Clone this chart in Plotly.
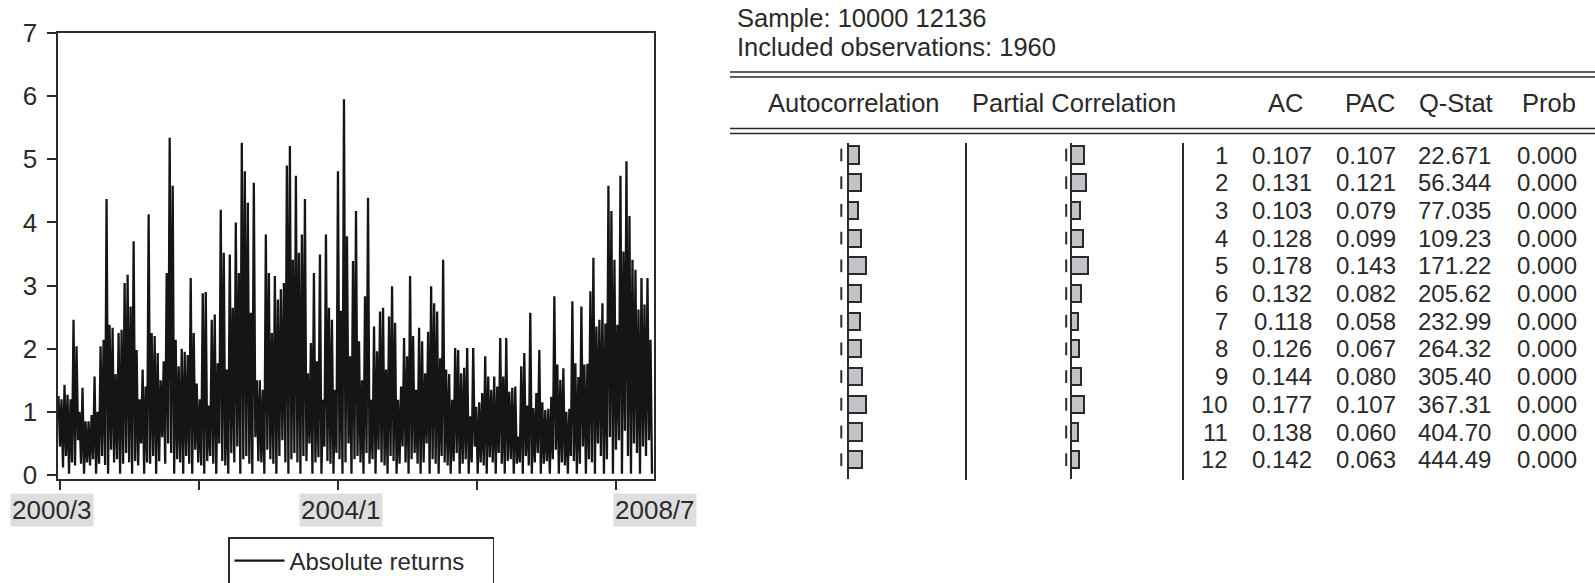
import numpy as np
import plotly.graph_objects as go

W, H = 1595, 583


def px(x):
    return x / W


def py(y):
    return 1 - y / H


FONT = "Liberation Sans, Arial, Helvetica, sans-serif"
INK = "#2a2a2a"

# ---------------- data: absolute returns (peak / trough per ~5 obs) -------------
peaks_a = [1.25, 1.2, 1.43, 1.27, 1.2, 2.46, 2.04, 1.0, 1.38, 0.85,
           0.85, 0.95, 1.56, 1.0, 2.04, 2.14, 4.37, 2.38, 2.33, 1.6,
           2.25, 2.3, 3.04, 3.17, 2.67, 3.70, 1.98, 1.2, 1.67, 1.4,
           4.13, 2.25, 2.2, 1.93, 1.5, 1.8, 3.2, 5.34, 4.58, 2.14,
           1.72, 2.0, 1.95, 1.9, 3.12, 2.25, 1.45, 1.2, 2.88, 2.9]
troughs_a = [0.45, 0.12, 0.3, 0.02, 0.2, 0.15, 0.55, 0.18, 0.02, 0.2,
             0.15, 0.25, 0.02, 0.18, 0.3, 0.16, 0.02, 0.4, 0.2, 0.25,
             0.02, 0.18, 0.35, 0.2, 0.02, 0.22, 0.15, 0.5, 0.02, 0.2,
             0.18, 0.3, 0.02, 0.22, 0.6, 0.18, 0.5, 0.35, 0.02, 0.25,
             0.2, 0.02, 0.3, 0.18, 0.02, 0.4, 0.2, 0.15, 0.02, 0.22]
peaks_b = [1.1, 2.46, 2.54, 1.77, 4.2, 3.52, 1.67, 3.49, 2.65, 4.0,
           3.2, 5.26, 4.81, 4.31, 2.57, 4.63, 1.5, 1.5, 1.35, 3.81,
           3.2, 2.25, 3.15, 2.78, 2.94, 3.04, 4.9, 5.21, 3.41, 4.74,
           3.52, 3.81, 4.37, 1.61, 2.09, 3.2, 1.8, 3.49, 1.19, 3.81,
           2.65, 2.46, 1.35, 4.81, 2.6, 5.95, 3.78, 1.88, 3.39, 4.18]
troughs_b = [0.3, 0.18, 0.02, 0.5, 0.22, 0.15, 0.02, 0.35, 0.2, 0.45,
             0.02, 0.25, 0.3, 0.18, 0.02, 0.6, 0.22, 0.2, 0.02, 0.4,
             0.25, 0.18, 0.02, 0.3, 0.55, 0.2, 0.02, 0.25, 0.35, 0.2,
             0.02, 0.3, 0.22, 0.5, 0.02, 0.2, 0.28, 0.02, 0.45, 0.22,
             0.18, 0.02, 0.35, 0.25, 0.02, 0.2, 0.5, 0.02, 0.25, 0.3]
peaks_c = [2.12, 1.5, 2.83, 4.39, 1.19, 2.35, 1.96, 2.59, 2.65, 1.67,
           2.51, 2.99, 2.41, 1.19, 1.4, 2.17, 1.88, 3.15, 2.2, 1.35,
           2.33, 2.12, 1.61, 2.27, 2.99, 2.72, 2.59, 1.85, 3.41, 1.67,
           1.6, 1.19, 2.01, 1.98, 1.61, 1.7, 2.01, 0.93, 2.01, 1.08,
           1.15, 1.3, 1.88, 1.56, 1.35, 1.56, 1.4, 2.17, 1.56, 2.17]
troughs_c = [0.2, 0.02, 0.35, 0.18, 0.25, 0.02, 0.4, 0.2, 0.15, 0.02,
             0.3, 0.22, 0.02, 0.18, 0.45, 0.2, 0.02, 0.25, 0.35, 0.18,
             0.02, 0.2, 0.5, 0.02, 0.25, 0.18, 0.02, 0.3, 0.2, 0.15,
             0.02, 0.22, 0.35, 0.02, 0.18, 0.25, 0.02, 0.2, 0.45, 0.02,
             0.2, 0.15, 0.02, 0.28, 0.2, 0.02, 0.35, 0.18, 0.02, 0.22]
peaks_d = [1.32, 1.38, 1.4, 0.61, 1.72, 1.93, 1.1, 2.57, 1.06, 1.3,
           1.98, 1.15, 1.03, 1.05, 1.24, 2.83, 1.75, 1.51, 1.69, 1.0,
           1.05, 2.75, 1.77, 1.55, 2.67, 1.75, 1.76, 2.91, 3.44, 2.35,
           2.46, 2.72, 2.4, 4.58, 4.18, 3.41, 2.38, 4.74, 3.54, 4.97,
           4.1, 3.41, 3.25, 2.62, 3.12, 2.7, 3.12, 2.14]
troughs_d = [0.25, 0.02, 0.18, 0.2, 0.02, 0.3, 0.15, 0.02, 0.2, 0.35,
             0.02, 0.18, 0.22, 0.02, 0.25, 0.4, 0.02, 0.2, 0.15, 0.02,
             0.3, 0.22, 0.02, 0.18, 0.45, 0.02, 0.25, 0.2, 0.02, 0.5,
             0.3, 0.02, 0.25, 0.6, 0.02, 0.4, 0.55, 0.02, 0.7, 0.3,
             0.02, 0.5, 0.35, 0.02, 0.45, 0.3, 0.55, 0.02]

n_obs = 1960
x_tick_obs = [6, 465, 924, 1382, 1841]
x_tick_labels = ["2000/3", "", "2004/1", "", "2008/7"]
y_ticks = [0, 1, 2, 3, 4, 5, 6, 7]

# ---------------- data: correlogram ----------------
lags = [1, 2, 3, 4, 5, 6, 7, 8, 9, 10, 11, 12]
ac = [0.107, 0.131, 0.103, 0.128, 0.178, 0.132, 0.118, 0.126, 0.144, 0.177, 0.138, 0.142]
pac = [0.107, 0.121, 0.079, 0.099, 0.143, 0.082, 0.058, 0.067, 0.080, 0.107, 0.060, 0.063]
q_stat = ["22.671", "56.344", "77.035", "109.23", "171.22", "205.62",
          "232.99", "264.32", "305.40", "367.31", "404.70", "444.49"]
prob = ["0.000"] * 12
acf_band = 0.067
pacf_band = 0.04

# ---------------- build series ----------------
peaks = peaks_a + peaks_b + peaks_c + peaks_d
troughs = troughs_a + troughs_b + troughs_c + troughs_d
abs_returns = []
for p, t in zip(peaks, troughs):
    abs_returns += [p, t]
obs = np.linspace(1, n_obs, len(abs_returns))

fig = go.Figure()
fig.add_trace(go.Scatter(
    x=obs, y=abs_returns, mode="lines", name="Absolute returns",
    line=dict(color="#151515", width=2.3), xaxis="x", yaxis="y",
    showlegend=True,
))

# correlogram bars
bar_style = dict(color="#c3c3c7", line=dict(color=INK, width=2))
fig.add_trace(go.Bar(x=ac, y=lags, orientation="h", base=0, width=0.62,
                     marker=bar_style, xaxis="x2", yaxis="y2", showlegend=False))
fig.add_trace(go.Bar(x=pac, y=lags, orientation="h", base=0, width=0.62,
                     marker=bar_style, xaxis="x3", yaxis="y2", showlegend=False))

# ---------------- layout / axes ----------------
px_per_obs = (652 - 58.5) / (n_obs - 1)
x_lo = 1 - (58.5 - 57.5) / px_per_obs
x_hi = n_obs + (654 - 652) / px_per_obs
y_scale = (475 - 33) / 7.0
y_lo = -(479 - 475) / y_scale

row_px0, row_step = 155.0, 27.7
y2_top_px, y2_bot_px = 141.0, 480.0
r_top = 1 + (y2_top_px - row_px0) / row_step
r_bot = 1 + (y2_bot_px - row_px0) / row_step

axis_common = dict(showgrid=False, zeroline=False)
fig.update_layout(
    width=W, height=H, margin=dict(l=0, r=0, t=0, b=0, autoexpand=False),
    paper_bgcolor="white", plot_bgcolor="white",
    font=dict(family=FONT, size=24, color=INK),
    bargap=0,
    xaxis=dict(domain=[px(57.5), px(654)], range=[x_lo, x_hi], tickmode="array",
               tickvals=x_tick_obs, ticktext=x_tick_labels, showticklabels=False,
               ticks="outside", ticklen=9, tickwidth=1.5, tickcolor=INK,
               showline=True, mirror=True, linecolor=INK, linewidth=2, anchor="y",
               **axis_common),
    yaxis=dict(domain=[py(479), py(33)], range=[y_lo, 7.0], tickmode="array",
               tickvals=y_ticks, ticks="outside", ticklen=9, tickwidth=1.5,
               tickcolor=INK, ticklabelstandoff=4,
               tickfont=dict(size=26, color=INK),
               showline=True, mirror=True, linecolor=INK, linewidth=2, anchor="x",
               **axis_common),
    xaxis2=dict(domain=[px(770), px(960)], range=[(770 - 848) / 100, (960 - 848) / 100],
                visible=False, anchor="y2", **axis_common),
    xaxis3=dict(domain=[px(985), px(1175)], range=[(985 - 1071) / 120, (1175 - 1071) / 120],
                visible=False, anchor="y2", **axis_common),
    yaxis2=dict(domain=[py(y2_bot_px), py(y2_top_px)], range=[r_bot, r_top],
                visible=False, anchor="x2", **axis_common),
    legend=dict(x=px(228), y=py(537), xanchor="left", yanchor="top",
                bordercolor=INK, borderwidth=1.5, bgcolor="white",
                font=dict(size=24, color=INK), itemwidth=50, orientation="h",
                entrywidth=198, entrywidthmode="pixels"),
)

shapes = []
annotations = []

# x-axis date labels with grey boxes
label_centers = {"2000/3": 52, "2004/1": 341, "2008/7": 655}
for lab in [t for t in x_tick_labels if t]:
    annotations.append(dict(text=lab, x=px(label_centers[lab]), y=py(510), xref="paper", yref="paper",
                            showarrow=False, xanchor="center", yanchor="middle",
                            bgcolor="#dedede", borderpad=1, font=dict(size=26, color=INK)))

# header text
annotations.append(dict(text="Sample: 10000 12136", x=px(735), y=py(18), xref="paper", yref="paper",
                        showarrow=False, xanchor="left", yanchor="middle", font=dict(size=25.5)))
annotations.append(dict(text="Included observations: 1960", x=px(735), y=py(47), xref="paper",
                        yref="paper", showarrow=False, xanchor="left", yanchor="middle",
                        font=dict(size=25.5)))
for txt, cx in [("Autocorrelation", 854), ("Partial Correlation", 1074), ("AC", 1285),
                ("PAC", 1370), ("Q-Stat", 1456), ("Prob", 1549)]:
    annotations.append(dict(text=txt, x=px(cx), y=py(103), xref="paper", yref="paper",
                            showarrow=False, xanchor="center", yanchor="middle",
                            font=dict(size=25.5)))

# double rules
for yy in [72, 77, 128.5, 133.5]:
    shapes.append(dict(type="line", xref="paper", yref="paper", x0=px(730), x1=1,
                       y0=py(yy), y1=py(yy), line=dict(color=INK, width=1.6)))

# vertical separators
for xx in [966, 1183]:
    shapes.append(dict(type="line", xref="paper", yref="paper", x0=px(xx), x1=px(xx),
                       y0=py(143), y1=py(480), line=dict(color=INK, width=2)))

# zero lines of the correlograms
for xr in ["x2", "x3"]:
    shapes.append(dict(type="line", xref=xr, yref="y2 domain", x0=0, x1=0, y0=0.003, y1=0.994,
                       line=dict(color=INK, width=2), layer="above"))

# confidence band dashes
for r in lags:
    for xr, band in [("x2", acf_band), ("x3", pacf_band)]:
        for sgn in (-1, 1):
            shapes.append(dict(type="line", xref=xr, yref="y2", x0=sgn * band, x1=sgn * band,
                               y0=r - 0.23, y1=r + 0.23, line=dict(color=INK, width=2),
                               layer="below"))

# table numbers
cols = [(lags, 1230, "{}"), (ac, 1314, "{:.3f}"), (pac, 1398, "{:.3f}"),
        (q_stat, 1493, "{}"), (prob, 1579, "{}")]
for values, right, fmt in cols:
    for r, v in zip(lags, values):
        annotations.append(dict(text=fmt.format(v), x=px(right), y=r, xref="paper", yref="y2",
                                showarrow=False, xanchor="right", yanchor="middle",
                                font=dict(size=24)))

fig.update_layout(shapes=shapes, annotations=annotations)
fig.write_html("out.html")
